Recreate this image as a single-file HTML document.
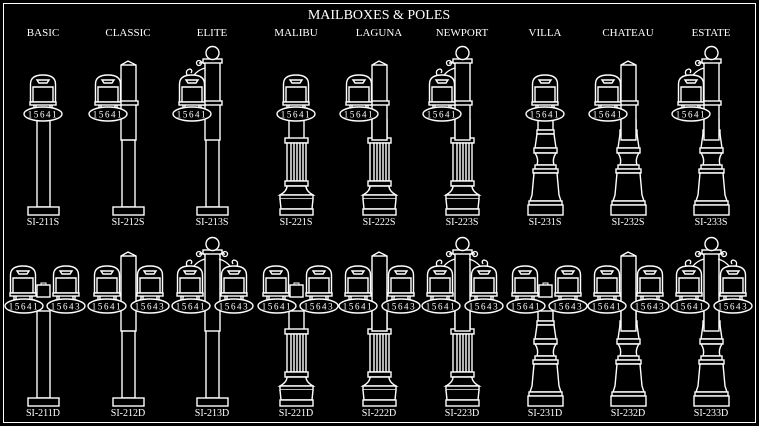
<!DOCTYPE html>
<html><head><meta charset="utf-8"><style>
html,body{margin:0;padding:0;background:#000;width:759px;height:426px;overflow:hidden}
svg{display:block}
text{font-family:"Liberation Serif",serif;fill:#fff}
</style></head><body>
<svg width="759" height="426" viewBox="0 0 759 426" xmlns="http://www.w3.org/2000/svg">
<defs>
<g id="mb" fill="#000" stroke="#fff" stroke-width="1.4">
  <path d="M-12.5,27 V9 Q-12.5,0 0,0 Q12.5,0 12.5,9 V27 Z"/>
  <path d="M-10,27 V12 H10 V27" fill="none"/>
  <path d="M-6,5 H6 L4,8 H-4 Z"/>
  <rect x="-13" y="27" width="26" height="3"/>
  <path d="M-9,30 V34 M-7,30 V34 M7,30 V34 M9,30 V34" fill="none"/>
</g>
<g id="num1"><ellipse rx="19" ry="7" fill="#000" stroke="#fff" stroke-width="1.4"/><text x="0" y="3.3" font-size="9" text-anchor="middle" letter-spacing="1.6" font-family="Liberation Sans,sans-serif">15641</text></g>
<g id="num3"><ellipse rx="19" ry="7" fill="#000" stroke="#fff" stroke-width="1.4"/><text x="0" y="3.3" font-size="9" text-anchor="middle" letter-spacing="1.6" font-family="Liberation Sans,sans-serif">15643</text></g>
<g id="pBasic" fill="#000" stroke="#fff" stroke-width="1.4">
  <rect x="-6" y="-95" width="13" height="87"/>
  <rect x="-15" y="-8" width="31" height="8"/>
</g>
<g id="pMalibu" fill="#000" stroke="#fff" stroke-width="1.4">
  <rect x="-7" y="-95" width="15" height="20"/>
  <rect x="-11" y="-77" width="23" height="5"/>
  <rect x="-9" y="-72" width="19" height="38"/>
  <path d="M-5,-72V-34 M-2,-72V-34 M1,-72V-34 M4,-72V-34 M7,-72V-34" fill="none"/>
  <rect x="-11" y="-34" width="23" height="5"/>
  <path d="M-9,-29 Q-9,-24 -16,-20 H17 Q10,-24 10,-29 Z"/>
  <rect x="-16" y="-20" width="33" height="4"/>
  <path d="M-16,-16 L-15,-6 H16 L17,-16"/>
  <rect x="-16" y="-6" width="33" height="6"/>
</g>
<g id="pVilla" fill="#000" stroke="#fff" stroke-width="1.4">
  <rect x="-7" y="-95" width="15" height="10"/>
  <rect x="-8" y="-85" width="17" height="4"/>
  <path d="M-8,-81 L-10,-67 H11 L9,-81 Z"/>
  <rect x="-11" y="-67" width="23" height="5"/>
  <path d="M-10,-62 Q-6,-56 -8,-50 H9 Q7,-56 11,-62 Z"/>
  <rect x="-10" y="-50" width="21" height="4"/>
  <rect x="-12" y="-46" width="25" height="4"/>
  <path d="M-11,-42 L-13,-20 L-15,-14 H16 L14,-20 L12,-42 Z"/>
  <rect x="-16" y="-14" width="33" height="4"/>
  <rect x="-17" y="-10" width="35" height="10"/>
</g>
<g id="topClassic" fill="#000" stroke="#fff" stroke-width="1.4">
  <path d="M-7,-75 V-150 L0,-154 L8,-150 V-75 Z"/>
  <path d="M-7,-150 H8" fill="none"/>
</g>
<g id="topElite" fill="#000" stroke="#fff" stroke-width="1.4">
  <rect x="-7" y="-153" width="15" height="78"/>
  <rect x="-9" y="-156" width="19" height="4"/>
  <circle cx="0.5" cy="-162" r="6.5"/>
</g>
<g id="scrollL" fill="none" stroke="#fff" stroke-width="1.3">
  <path d="M-7,-147 Q-14,-145 -18,-140 Q-22,-136 -25,-140 Q-27,-145 -22,-146 Q-19,-145 -21,-142"/>
  <path d="M-7,-151 Q-13,-155 -12,-151"/>
  <circle cx="-13" cy="-152" r="2.5"/>
</g>
</defs>

<rect x="3.5" y="3.5" width="752" height="419" fill="none" stroke="#fff" stroke-width="1"/>
<text x="379" y="19" font-size="14" text-anchor="middle">MAILBOXES &amp; POLES</text>
<g font-size="11" text-anchor="middle">
<text x="43" y="36">BASIC</text><text x="128" y="36">CLASSIC</text><text x="212" y="36">ELITE</text>
<text x="296" y="36">MALIBU</text><text x="379" y="36">LAGUNA</text><text x="462" y="36">NEWPORT</text>
<text x="545" y="36">VILLA</text><text x="628" y="36">CHATEAU</text><text x="711" y="36">ESTATE</text>
</g>

<g transform="translate(43,215)"><use href="#pBasic"/><use href="#mb" y="-140"/><use href="#num1" y="-101"/></g>
<g transform="translate(128,215)"><use href="#pBasic"/><use href="#topClassic"/><rect x="-9" y="-114" width="19" height="4" fill="#000" stroke="#fff" stroke-width="1.4"/><use href="#mb" x="-20" y="-140"/><use href="#num1" x="-20" y="-101"/></g>
<g transform="translate(212,215)"><use href="#pBasic"/><use href="#topElite"/><rect x="-9" y="-114" width="19" height="4" fill="#000" stroke="#fff" stroke-width="1.4"/><use href="#scrollL"/><use href="#mb" x="-20" y="-140"/><use href="#num1" x="-20" y="-101"/></g>

<g transform="translate(296,215)"><use href="#pMalibu"/><use href="#mb" y="-140"/><use href="#num1" y="-101"/></g>
<g transform="translate(379,215)"><use href="#pMalibu"/><use href="#topClassic"/><rect x="-9" y="-114" width="19" height="4" fill="#000" stroke="#fff" stroke-width="1.4"/><use href="#mb" x="-20" y="-140"/><use href="#num1" x="-20" y="-101"/></g>
<g transform="translate(462,215)"><use href="#pMalibu"/><use href="#topElite"/><rect x="-9" y="-114" width="19" height="4" fill="#000" stroke="#fff" stroke-width="1.4"/><use href="#scrollL"/><use href="#mb" x="-20" y="-140"/><use href="#num1" x="-20" y="-101"/></g>

<g transform="translate(545,215)"><use href="#pVilla"/><use href="#mb" y="-140"/><use href="#num1" y="-101"/></g>
<g transform="translate(628,215)"><use href="#pVilla"/><use href="#topClassic"/><rect x="-9" y="-114" width="19" height="4" fill="#000" stroke="#fff" stroke-width="1.4"/><use href="#mb" x="-20" y="-140"/><use href="#num1" x="-20" y="-101"/></g>
<g transform="translate(711,215)"><use href="#pVilla"/><use href="#topElite"/><rect x="-9" y="-114" width="19" height="4" fill="#000" stroke="#fff" stroke-width="1.4"/><use href="#scrollL"/><use href="#mb" x="-20" y="-140"/><use href="#num1" x="-20" y="-101"/></g>

<g font-size="10" text-anchor="middle">
<text x="43" y="225">SI-211S</text><text x="128" y="225">SI-212S</text><text x="212" y="225">SI-213S</text>
<text x="296" y="225">SI-221S</text><text x="379" y="225">SI-222S</text><text x="462" y="225">SI-223S</text>
<text x="545" y="225">SI-231S</text><text x="628" y="225">SI-232S</text><text x="711" y="225">SI-233S</text>
</g>

<g transform="translate(43,406)"><use href="#pBasic"/><rect x="-6" y="-121" width="13" height="12" fill="#000" stroke="#fff" stroke-width="1.4"/><path d="M-2,-121 V-123 H3 V-121" fill="none" stroke="#fff"/><use href="#mb" x="-20" y="-140"/><use href="#mb" x="23" y="-140"/><use href="#num1" x="-19" y="-100"/><use href="#num3" x="23" y="-100"/></g>
<g transform="translate(128,406)"><use href="#pBasic"/><use href="#topClassic"/><use href="#mb" x="-21" y="-140"/><use href="#mb" x="22" y="-140"/><use href="#num1" x="-21" y="-100"/><use href="#num3" x="22" y="-100"/></g>
<g transform="translate(212,406)"><use href="#pBasic"/><use href="#topElite"/><use href="#scrollL"/><use href="#scrollL" transform="scale(-1,1)"/><use href="#mb" x="-22" y="-140"/><use href="#mb" x="22" y="-140"/><use href="#num1" x="-21" y="-100"/><use href="#num3" x="22" y="-100"/></g>

<g transform="translate(296,406)"><use href="#pMalibu"/><rect x="-6" y="-121" width="13" height="12" fill="#000" stroke="#fff" stroke-width="1.4"/><path d="M-2,-121 V-123 H3 V-121" fill="none" stroke="#fff"/><use href="#mb" x="-20" y="-140"/><use href="#mb" x="23" y="-140"/><use href="#num1" x="-19" y="-100"/><use href="#num3" x="23" y="-100"/></g>
<g transform="translate(379,406)"><use href="#pMalibu"/><use href="#topClassic"/><use href="#mb" x="-21" y="-140"/><use href="#mb" x="22" y="-140"/><use href="#num1" x="-21" y="-100"/><use href="#num3" x="22" y="-100"/></g>
<g transform="translate(462,406)"><use href="#pMalibu"/><use href="#topElite"/><use href="#scrollL"/><use href="#scrollL" transform="scale(-1,1)"/><use href="#mb" x="-22" y="-140"/><use href="#mb" x="22" y="-140"/><use href="#num1" x="-21" y="-100"/><use href="#num3" x="22" y="-100"/></g>

<g transform="translate(545,406)"><use href="#pVilla"/><rect x="-6" y="-121" width="13" height="12" fill="#000" stroke="#fff" stroke-width="1.4"/><path d="M-2,-121 V-123 H3 V-121" fill="none" stroke="#fff"/><use href="#mb" x="-20" y="-140"/><use href="#mb" x="23" y="-140"/><use href="#num1" x="-19" y="-100"/><use href="#num3" x="23" y="-100"/></g>
<g transform="translate(628,406)"><use href="#pVilla"/><use href="#topClassic"/><use href="#mb" x="-21" y="-140"/><use href="#mb" x="22" y="-140"/><use href="#num1" x="-21" y="-100"/><use href="#num3" x="22" y="-100"/></g>
<g transform="translate(711,406)"><use href="#pVilla"/><use href="#topElite"/><use href="#scrollL"/><use href="#scrollL" transform="scale(-1,1)"/><use href="#mb" x="-22" y="-140"/><use href="#mb" x="22" y="-140"/><use href="#num1" x="-21" y="-100"/><use href="#num3" x="22" y="-100"/></g>

<g font-size="10" text-anchor="middle">
<text x="43" y="416">SI-211D</text><text x="128" y="416">SI-212D</text><text x="212" y="416">SI-213D</text>
<text x="296" y="416">SI-221D</text><text x="379" y="416">SI-222D</text><text x="462" y="416">SI-223D</text>
<text x="545" y="416">SI-231D</text><text x="628" y="416">SI-232D</text><text x="711" y="416">SI-233D</text>
</g>
</svg>
</body></html>
